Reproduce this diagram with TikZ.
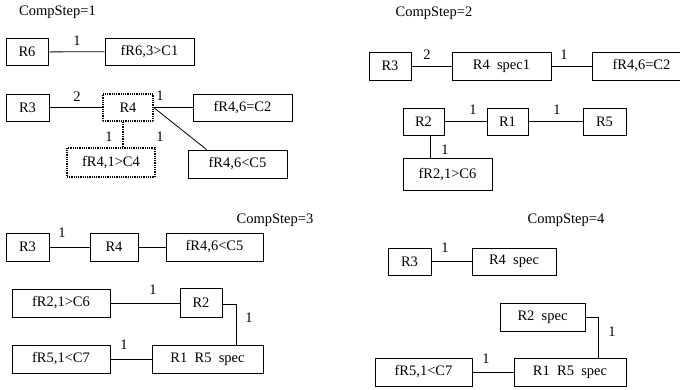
\documentclass[tikz,border=0pt]{standalone}
\usepackage{fontspec}
\setmainfont{Liberation Serif}
\tikzset{
  rbox/.style={draw, line width=0.8pt, minimum height=27pt, inner sep=0pt},
  dbox/.style={rbox, densely dotted, line width=1.4pt},
  lbl/.style={inner sep=0pt},
  link/.style={line width=0.8pt}
}
\begin{document}
\begin{tikzpicture}[x=1pt,y=-1pt,font=\fontsize{14.5}{16}\selectfont]
  \useasboundingbox (0,0) rectangle (680,390);

  % CompStep=1
  \node[lbl] (t1) at (57.5,12) {CompStep=1};
  \node[rbox,minimum width=42pt] (R6a) at (27,52) {R6};
  \node[rbox,minimum width=89pt] (fC1a) at (149.5,51.5) {fR6,3>C1};
  \node[rbox,minimum width=43pt] (R3a) at (27.5,107.5) {R3};
  \node[dbox,minimum width=50pt] (R4a) at (128,107.5) {R4};
  \node[rbox,minimum width=99pt] (fC2a) at (242.5,107.5) {fR4,6=C2};
  \node[rbox,minimum width=99pt,minimum height=28pt] (fC5a) at (237.5,164) {fR4,6<C5};
  \node[dbox,minimum width=88pt,minimum height=29pt] (fC4a) at (111,162.5) {fR4,1>C4};
  \draw[link] (R6a) -- (fC1a);
  \draw[link] (R3a) -- (R4a);
  \draw[link] (R4a) -- (fC2a);
  \draw[link] (R4a.east) -- ([xshift=19pt]fC5a.north west);
  \coordinate (d1) at ([xshift=-5pt]R4a.south);
  \draw[densely dotted,line width=1.4pt] (d1) -- (d1 |- fC4a.north);

  % CompStep=2
  \node[lbl] (t2) at (434,13) {CompStep=2};
  \node[rbox,minimum width=42pt,minimum height=28pt] (R3b) at (390,66) {R3};
  \node[rbox,minimum width=99pt,minimum height=28pt] (R4b) at (501.5,66) {R4~~spec1};
  \node[rbox,minimum width=99pt,minimum height=28pt] (fC2b) at (641.5,66) {fR4,6=C2};
  \node[rbox,minimum width=41pt] (R2b) at (423.5,121.5) {R2};
  \node[rbox,minimum width=41pt] (R1b) at (507.5,121.5) {R1};
  \node[rbox,minimum width=43pt] (R5b) at (604.5,121.5) {R5};
  \node[rbox,minimum width=89pt,minimum height=32pt] (fC6b) at (447.5,174.5) {fR2,1>C6};
  \draw[link] (R3b) -- (R4b);
  \draw[link] (R4b) -- (fC2b);
  \draw[link] (R2b) -- (R1b);
  \draw[link] (R1b) -- (R5b);
  \coordinate (d2) at ([xshift=7pt]R2b.south);
  \draw[link] (d2) -- (d2 |- fC6b.north);

  % CompStep=3
  \node[lbl] (t3) at (275,220) {CompStep=3};
  \node[rbox,minimum width=43pt,minimum height=28pt] (R3c) at (27.5,247) {R3};
  \node[rbox,minimum width=48pt,minimum height=28pt] (R4c) at (114,247) {R4};
  \node[rbox,minimum width=97pt,minimum height=28pt] (fC5c) at (214.5,247) {fR4,6<C5};
  \node[rbox,minimum width=98pt,minimum height=28pt] (fC6c) at (61,303) {fR2,1>C6};
  \node[rbox,minimum width=42pt,minimum height=29pt] (R2c) at (201,303) {R2};
  \node[rbox,minimum width=98pt,minimum height=28pt] (fC7c) at (61,359) {fR5,1<C7};
  \node[rbox,minimum width=111pt,minimum height=28pt] (R15c) at (207.5,359) {R1~~R5~~spec};
  \draw[link] (R3c) -- (R4c);
  \draw[link] (R4c) -- (fC5c);
  \draw[link] (fC6c) -- (R2c);
  \draw[link] (fC7c) -- (R15c);
  \draw[link] ([yshift=-1pt]R2c.east) -| ([xshift=28.5pt]R15c.north);

  % CompStep=4
  \node[lbl] (t4) at (566,220) {CompStep=4};
  \node[rbox,minimum width=43pt] (R3d) at (409.5,261.5) {R3};
  \node[rbox,minimum width=84pt] (R4d) at (514,261.5) {R4~~spec};
  \node[rbox,minimum width=85pt,minimum height=28pt] (R2d) at (542.5,317) {R2~~spec};
  \node[rbox,minimum width=97pt,minimum height=28pt] (fC7d) at (423.5,372) {fR5,1<C7};
  \node[rbox,minimum width=112pt,minimum height=28pt] (R15d) at (570,372) {R1~~R5~~spec};
  \draw[link] (R3d) -- (R4d);
  \draw[link] (fC7d) -- (R15d);
  \draw[link] (R2d.east) -| ([xshift=28pt]R15d.north);

  % multiplicities
  \foreach \x/\y/\t [count=\i] in {77/41/1, 77/97/2, 160/96/1, 160/137/1, 109/137/1,
    427/55/2, 564/55/1, 473/110/1, 557/110/1, 445/150/1,
    62/233/1, 153/290/1, 124/345/1, 249/318/1,
    445/248/1, 486/359/1, 612/332/1}
  \node[lbl] (m\i) at (\x,\y) {\t};
\end{tikzpicture}
\end{document}
